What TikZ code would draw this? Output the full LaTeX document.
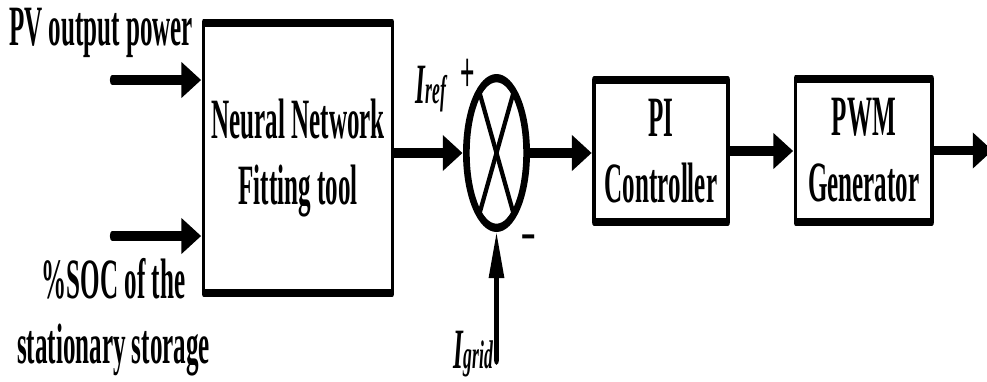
\documentclass[tikz,border=0pt]{standalone}
\usepackage{fontspec}
\setmainfont{Liberation Serif}
\newfontfamily\signfont{Liberation Sans}
\usetikzlibrary{arrows.meta,calc,shapes.geometric}
\newcommand\lblfont{\fontsize{57}{66}\selectfont\bfseries}
\newcommand\subfont{\fontsize{40}{40}\selectfont\bfseries\itshape}

\begin{document}
\begin{tikzpicture}[x=1pt,y=-1pt,
  blk/.style={draw, line width=8.5pt, line join=round, inner sep=0pt,
              align=center, font=\lblfont},
  flow/.style={line width=9.5pt, line cap=round,
               -{Triangle[length=46pt,width=33pt]}},
  lbl/.style={inner sep=0pt, font=\lblfont},
  sign/.style={inner sep=0pt, font=\signfont\fontsize{56}{56}\selectfont},
]
\clip (0,0) rectangle (987,381);

% the whole block diagram is set in a horizontally condensed frame
\begin{scope}[transform canvas={xscale=0.44}]

  % blocks
  \node[blk, minimum width=429.5pt, minimum height=270pt] (nn) at (677.3,158)
       {Neural Network\\Fitting tool};
  \node[blk, minimum width=304.5pt, minimum height=142pt] (pi) at (1502.3,151)
       {PI\\Controller};
  \node[blk, minimum width=310.2pt, minimum height=143pt] (pwm) at (1963.1,150.5)
       {PWM\\Generator};

  % summing junction
  \node[ellipse, minimum width=152.2pt, minimum height=158pt,
        inner sep=0pt, outer sep=0pt] (sum) at (1128.4,153) {};
  \fill[even odd rule]
    (sum.center) ellipse [x radius=76.1pt, y radius=79pt]
    (sum.center) ellipse [x radius=60.9pt, y radius=70.7pt];
  \draw[line width=8.5pt] ($(sum.center)+(-39,-61)$) -- ($(sum.center)+(39,61)$);
  \draw[line width=8.5pt] ($(sum.center)+(39,-61)$) -- ($(sum.center)+(-39,61)$);

  % free ends of the signal lines
  \coordinate (pvin)   at (254.5,80);
  \coordinate (socin)  at (254.5,236);
  \coordinate (gridin) at (1128.4,360);
  \coordinate (out)    at (2257,150);

  % signal flow
  \draw[flow] (pvin) -- (pvin -| nn.west);
  \draw[flow] (socin) -- (socin -| nn.west);
  \draw[flow] (nn.east |- sum.west) -- (sum.west);
  \draw[flow] (sum.east) -- (sum.east -| pi.west);
  \draw[flow] (pi.east) -- (pi.east -| pwm.west);
  \draw[flow] (pwm.east) -- (pwm.east -| out);
  \draw[flow] (gridin) -- (sum.south);

  % labels
  \node[lbl, anchor=base] (pv) at (229.5,45) {PV output power};
  \node[lbl, anchor=base] (soc1) at (258,298) {\%SOC of the};
  \node[lbl, anchor=base] (soc2) at (258,363) {stationary storage};
  \node[lbl, anchor=base] (iref) at (979.5,103) {\itshape I{\subfont ref}};
  \node[lbl, anchor=base] (igrid) at (1076,368) {\itshape I{\subfont grid}};
  \node[sign] (plus) at (1063.6,75) {+};
  \node[sign] (minus) at (1202.3,245) {−};
\end{scope}
\end{tikzpicture}
\end{document}
